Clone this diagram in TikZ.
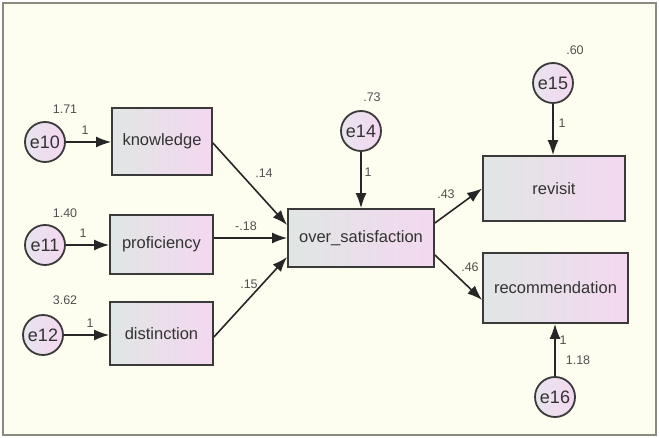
\documentclass[tikz,border=0pt]{standalone}
\usepackage{fontspec}
\setmainfont{Liberation Sans}
\usetikzlibrary{arrows.meta,calc}
\definecolor{bg}{HTML}{FEFEF0}
\definecolor{framegray}{HTML}{8A8A80}
\definecolor{boxline}{HTML}{3A3A3A}
\definecolor{boxL}{HTML}{E0E6E4}
\definecolor{boxR}{HTML}{F4D8F0}
\definecolor{circL}{HTML}{E8E4EE}
\definecolor{circR}{HTML}{F4D8F0}
\definecolor{lbl}{HTML}{505050}
\begin{document}
\begin{tikzpicture}[x=1pt,y=-1pt,
  obs/.style={draw=boxline, line width=1.8pt, left color=boxL, right color=boxR,
    inner sep=0pt, font=\fontsize{16.5}{18}\selectfont, text=black!80},
  err/.style={circle, draw=boxline, line width=1.8pt, left color=circL, right color=circR,
    minimum size=40pt, inner sep=0pt, font=\fontsize{18}{20}\selectfont, text=black!80},
  conn/.style={line width=1.6pt, draw=black!85, -{Latex[length=15pt,width=11pt]}},
  lab/.style={font=\fontsize{12.5}{14}\selectfont, text=lbl, inner sep=0pt}]
\useasboundingbox (0,0) rectangle (659,438);
\fill[white] (0,0) rectangle (659,438);
\draw[fill=bg, draw=framegray, line width=2pt] (3,3) rectangle (656,435);

% observed boxes
\node[obs, minimum width=100pt, minimum height=67pt] (knowledge) at (162,141.5) {knowledge};
\node[obs, minimum width=103pt, minimum height=59pt] (proficiency) at (161.5,244.5) {proficiency};
\node[obs, minimum width=103pt, minimum height=63pt] (distinction) at (161.5,333.5) {distinction};
\node[obs, minimum width=146pt, minimum height=58pt] (over) at (361,238) {over\_satisfaction};
\node[obs, minimum width=142pt, minimum height=65pt] (revisit) at (554,188.5) {revisit};
\node[obs, minimum width=145pt, minimum height=70pt] (rec) at (555.5,288) {recommendation};

% error terms
\node[err] (e10) at (45,142) {e10};
\node[err] (e11) at (45,245) {e11};
\node[err] (e12) at (43,335) {e12};
\node[err] (e14) at (361,131) {e14};
\node[err] (e15) at (553,83) {e15};
\node[err] (e16) at (555,397) {e16};

% connectors
\draw[conn] (e10.east) -- (e10.east -| knowledge.west);
\draw[conn] (e11.east) -- (e11.east -| proficiency.west);
\draw[conn] (e12.east) -- (e12.east -| distinction.west);
\draw[conn] ($(knowledge.east)+(0,1.5)$) -- ($(over.west)+(0,-13)$);
\draw[conn] (over.west -| proficiency.east) -- (over.west);
\draw[conn] ($(distinction.east)+(0,3.5)$) -- ($(over.west)+(0,19)$);
\draw[conn] (e14.south) -- (over.north);
\draw[conn] ($(over.east)+(0,-15)$) -- (revisit.west);
\draw[conn] ($(over.east)+(0,17)$) -- ($(rec.west)+(0,12)$);
\draw[conn] (e15.south) -- (e15.south |- revisit.north);
\draw[conn] (e16.north) -- (e16.north |- rec.south);

% labels
\node[lab] (l1) at (65,109) {1.71};
\node[lab] (l2) at (85,130) {1};
\node[lab] (l3) at (65,213) {1.40};
\node[lab] (l4) at (83,233) {1};
\node[lab] (l5) at (65,300) {3.62};
\node[lab] (l6) at (90,323) {1};
\node[lab] (l7) at (372,97) {.73};
\node[lab] (l8) at (368,172) {1};
\node[lab] (l9) at (264,173) {.14};
\node[lab] (l10) at (246,226) {-.18};
\node[lab] (l11) at (249,284) {.15};
\node[lab] (l12) at (446,194) {.43};
\node[lab] (l13) at (470,267) {.46};
\node[lab] (l14) at (575,50) {.60};
\node[lab] (l15) at (562,123) {1};
\node[lab] (l16) at (563,340) {1};
\node[lab] (l17) at (578,360) {1.18};
\end{tikzpicture}
\end{document}
